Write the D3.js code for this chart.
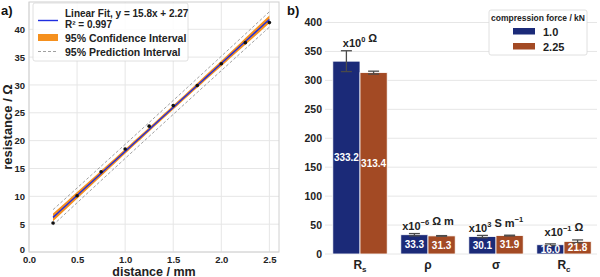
<!DOCTYPE html>
<html>
<head>
<meta charset="utf-8">
<script src="https://cdn.jsdelivr.net/npm/d3@7"></script>
<style>
  body { margin: 0; background: #fff; }
  svg { display: block; font-family: "Liberation Sans", Arial, sans-serif; font-weight: bold; }
</style>
</head>
<body>
<div id="svgdiv"></div>
<script>
// ---- data ----
var distance = [0.25, 0.5, 0.75, 1.0, 1.25, 1.5, 1.75, 2.0, 2.25, 2.5];
var resistance = [5.2, 10.1, 14.4, 18.5, 22.6, 26.3, 29.9, 33.8, 37.6, 41.2];
var fitSlope = 15.8;
var fitIntercept = 2.27;
var fitR2 = 0.997;

var xTicksA = [0.0, 0.5, 1.0, 1.5, 2.0, 2.5];
var yTicksA = [0, 5, 10, 15, 20, 25, 30, 35, 40];

var quantities = ["Rs", "rho", "sigma", "Rc"];
var forces = ["1.0", "2.25"];
var values1 = [333.2, 33.3, 30.1, 16.0];
var values2 = [313.4, 31.3, 31.9, 21.8];
var errors1 = [18, 2.0, 2.0, 1.5];
var errors2 = [2.5, 0.5, 0.6, 2.5];
var yTicksB = [0, 50, 100, 150, 200, 250, 300, 350, 400];

var blueBar = "#1b2a78";
var rustBar = "#a34a24";

// Step 1: Set up the svg
var svgWidth = 600;
var svgHeight = 277;

var svg = d3.select("#svgdiv")
    .append("svg")
    .attr("width", svgWidth)
    .attr("height", svgHeight);

// =========== panel a) ===========
var xA = d3.scaleLinear().domain([0, 2.6]).range([29, 279]);
var yA = d3.scaleLinear().domain([0, 44.9]).range([252, 2]);

var gA = svg.append("g");

// grid
gA.selectAll(".gx").data(xTicksA).enter().append("line")
    .attr("x1", d => xA(d)).attr("x2", d => xA(d))
    .attr("y1", yA.range()[0]).attr("y2", yA.range()[1])
    .attr("stroke", "#e6e6e6").attr("stroke-width", 1);
gA.selectAll(".gy").data(yTicksA).enter().append("line")
    .attr("x1", xA.range()[0]).attr("x2", xA.range()[1])
    .attr("y1", d => yA(d)).attr("y2", d => yA(d))
    .attr("stroke", "#e6e6e6").attr("stroke-width", 1);

// frame
gA.append("rect")
    .attr("x", xA.range()[0]).attr("y", yA.range()[1])
    .attr("width", xA.range()[1] - xA.range()[0])
    .attr("height", yA.range()[0] - yA.range()[1])
    .attr("fill", "none").attr("stroke", "#d0d0d0").attr("stroke-width", 1);

// axes via d3 axis, then strip lines
var axisBottomA = d3.axisBottom(xA).tickValues(xTicksA).tickFormat(d3.format(".1f")).tickSize(0).tickPadding(4);
var axisLeftA = d3.axisLeft(yA).tickValues(yTicksA).tickSize(0).tickPadding(4);

var xAxisA = gA.append("g").attr("transform", `translate(0, ${yA.range()[0]})`).call(axisBottomA);
var yAxisA = gA.append("g").attr("transform", `translate(${xA.range()[0]}, 0)`).call(axisLeftA);
[xAxisA, yAxisA].forEach(function(ax) {
    ax.select(".domain").remove();
    ax.selectAll("text")
        .attr("font-family", "Liberation Sans, Arial, sans-serif")
        .attr("font-weight", "bold")
        .attr("font-size", "9.5px")
        .attr("fill", "#222");
});
// the "0" of the y axis sits a little higher so it clears "0.0"
yAxisA.selectAll(".tick text").filter(d => d === 0).attr("dy", "0.1em");

// regression intervals computed from the data
var n = distance.length;
var xMean = d3.mean(distance);
var sxx = d3.sum(distance, d => (d - xMean) * (d - xMean));
var sse = d3.sum(distance, (d, i) => Math.pow(resistance[i] - (fitSlope * d + fitIntercept), 2));
var s = Math.sqrt(sse / (n - 2));
var tVal = 2.306;

var lineX = d3.range(0, 46).map(i => 0.25 + i * 0.05);
var bandData = lineX.map(function(x) {
    var yh = fitSlope * x + fitIntercept;
    var ci = tVal * s * Math.sqrt(1 / n + (x - xMean) * (x - xMean) / sxx);
    var pi = tVal * s * Math.sqrt(1 + 1 / n + (x - xMean) * (x - xMean) / sxx);
    return { x: x, y: yh, ci: ci, pi: pi };
});

gA.append("path")
    .datum(bandData)
    .attr("fill", "#f5901e")
    .attr("d", d3.area().x(d => xA(d.x)).y0(d => yA(d.y - d.ci)).y1(d => yA(d.y + d.ci)));

gA.append("path")
    .datum(bandData)
    .attr("fill", "none").attr("stroke", "#888").attr("stroke-width", 0.8).attr("stroke-dasharray", "3,2")
    .attr("d", d3.line().x(d => xA(d.x)).y(d => yA(d.y + d.pi)));
gA.append("path")
    .datum(bandData)
    .attr("fill", "none").attr("stroke", "#888").attr("stroke-width", 0.8).attr("stroke-dasharray", "3,2")
    .attr("d", d3.line().x(d => xA(d.x)).y(d => yA(d.y - d.pi)));

gA.append("path")
    .datum(bandData)
    .attr("fill", "none").attr("stroke", "#1f2ee0").attr("stroke-width", 1.4)
    .attr("d", d3.line().x(d => xA(d.x)).y(d => yA(d.y)));

gA.selectAll(".pt").data(distance).enter().append("circle")
    .attr("cx", d => xA(d))
    .attr("cy", (d, i) => yA(resistance[i]))
    .attr("r", 1.8)
    .attr("fill", "#111");

// legend a
var legA = gA.append("g");
legA.append("rect")
    .attr("x", 33).attr("y", 3).attr("width", 155).attr("height", 58)
    .attr("rx", 2).attr("fill", "#fff").attr("fill-opacity", 0.85)
    .attr("stroke", "#d8d8d8").attr("stroke-width", 0.8);
legA.append("line").attr("x1", 38).attr("x2", 58).attr("y1", 20.5).attr("y2", 20.5)
    .attr("stroke", "#1f2ee0").attr("stroke-width", 1.4);
legA.append("text").attr("x", 65).attr("y", 17).attr("font-size", "10px").attr("fill", "#222")
    .text("Linear Fit, y = " + fitSlope + "x + " + fitIntercept);
legA.append("text").attr("x", 65).attr("y", 28).attr("font-size", "10px").attr("fill", "#222")
    .text("R² = " + fitR2);
legA.append("rect").attr("x", 38).attr("y", 34).attr("width", 20).attr("height", 7).attr("fill", "#f5901e");
legA.append("text").attr("x", 65).attr("y", 41.5).attr("font-size", "10.5px").attr("fill", "#222")
    .text("95% Confidence Interval");
legA.append("line").attr("x1", 38).attr("x2", 58).attr("y1", 51.5).attr("y2", 51.5)
    .attr("stroke", "#888").attr("stroke-width", 0.8).attr("stroke-dasharray", "3,2");
legA.append("text").attr("x", 65).attr("y", 55.5).attr("font-size", "10.5px").attr("fill", "#222")
    .text("95% Prediction Interval");

// axis titles a
svg.append("text")
    .attr("x", (xA(0) + xA(2.6)) / 2).attr("y", 275.5)
    .attr("text-anchor", "middle").attr("font-size", "12.5px").attr("fill", "#222")
    .text("distance / mm");
svg.append("text")
    .attr("transform", `translate(12, ${(yA.range()[0] + yA.range()[1]) / 2}) rotate(-90)`)
    .attr("text-anchor", "middle").attr("font-size", "13px").attr("fill", "#222")
    .text("resistance / Ω");
svg.append("text").attr("x", 1).attr("y", 15).attr("font-size", "13px").attr("fill", "#111").text("a)");

// =========== panel b) ===========
var x0 = d3.scaleBand().domain(quantities).range([326, 598]).paddingInner(0.2).paddingOuter(0.1);
var x1 = d3.scaleBand().domain(forces).range([0, x0.bandwidth()]);
var yB = d3.scaleLinear().domain([0, 400]).range([254, 22.5]);

var gB = svg.append("g");

gB.selectAll(".gyb").data(yTicksB).enter().append("line")
    .attr("x1", 325).attr("x2", 597)
    .attr("y1", d => yB(d)).attr("y2", d => yB(d))
    .attr("stroke", "#e6e6e6").attr("stroke-width", 1);

var axisLeftB = d3.axisLeft(yB).tickValues(yTicksB).tickSize(0).tickPadding(3);
var yAxisB = gB.append("g").attr("transform", "translate(325, 0)").call(axisLeftB);
yAxisB.select(".domain").remove();
yAxisB.selectAll("text")
    .attr("font-family", "Liberation Sans, Arial, sans-serif")
    .attr("font-weight", "bold")
    .attr("font-size", "10.5px")
    .attr("fill", "#222");

var barData = [];
quantities.forEach(function(q, i) {
    barData.push({ q: q, f: forces[0], v: values1[i], e: errors1[i], c: blueBar });
    barData.push({ q: q, f: forces[1], v: values2[i], e: errors2[i], c: rustBar });
});

gB.selectAll(".bar").data(barData).enter().append("rect")
    .attr("x", d => x0(d.q) + x1(d.f))
    .attr("y", d => yB(d.v))
    .attr("width", x1.bandwidth())
    .attr("height", d => yB(0) - yB(d.v))
    .attr("fill", d => d.c)
    .attr("stroke", "#fff").attr("stroke-width", 0.8);

// error bars
var capW = 11;
var errG = gB.selectAll(".err").data(barData).enter().append("g")
    .attr("stroke", "#4a4a4a").attr("stroke-width", 1.3);
errG.append("line")
    .attr("x1", d => x0(d.q) + x1(d.f) + x1.bandwidth() / 2)
    .attr("x2", d => x0(d.q) + x1(d.f) + x1.bandwidth() / 2)
    .attr("y1", d => yB(d.v - d.e)).attr("y2", d => yB(d.v + d.e));
errG.append("line")
    .attr("x1", d => x0(d.q) + x1(d.f) + x1.bandwidth() / 2 - capW / 2)
    .attr("x2", d => x0(d.q) + x1(d.f) + x1.bandwidth() / 2 + capW / 2)
    .attr("y1", d => yB(d.v + d.e)).attr("y2", d => yB(d.v + d.e));
errG.append("line")
    .attr("x1", d => x0(d.q) + x1(d.f) + x1.bandwidth() / 2 - capW / 2)
    .attr("x2", d => x0(d.q) + x1(d.f) + x1.bandwidth() / 2 + capW / 2)
    .attr("y1", d => yB(d.v - d.e)).attr("y2", d => yB(d.v - d.e));

// value labels inside bars
gB.selectAll(".val").data(barData).enter().append("text")
    .attr("x", d => x0(d.q) + x1(d.f) + x1.bandwidth() / 2)
    .attr("y", d => (yB(d.v) + yB(0)) / 2 + 3.6)
    .attr("text-anchor", "middle")
    .attr("font-size", "10px")
    .attr("fill", "#fff")
    .text(d => d.v.toFixed(1));

// unit annotations above each group
var unitParts = [
    [["x10", 0], ["0", 1], [" Ω", 0]],
    [["x10", 0], ["−6", 1], [" Ω m", 0]],
    [["x10", 0], ["3", 1], [" S m", 0], ["−1", 1]],
    [["x10", 0], ["−1", 1], [" Ω", 0]]
];
quantities.forEach(function(q, i) {
    var top = d3.max([values1[i] + errors1[i], values2[i] + errors2[i]]);
    var t = gB.append("text")
        .attr("x", x0(q) + x0.bandwidth() / 2)
        .attr("y", yB(top) - 3.5)
        .attr("text-anchor", "middle")
        .attr("font-size", "11px")
        .attr("fill", "#222");
    unitParts[i].forEach(function(p) {
        t.append("tspan")
            .attr("font-size", p[1] ? "7.5px" : "11px")
            .attr("dy", p[1] ? -5 : 0)
            .text(p[0]);
        if (p[1]) t.append("tspan").attr("dy", 5).text("");
    });
});

// x category labels
var catLabels = [["R", "s"], ["ρ", ""], ["σ", ""], ["R", "c"]];
quantities.forEach(function(q, i) {
    var t = gB.append("text")
        .attr("x", x0(q) + x0.bandwidth() / 2)
        .attr("y", 269)
        .attr("text-anchor", "middle")
        .attr("font-size", "12px")
        .attr("fill", "#222");
    t.append("tspan").text(catLabels[i][0]);
    if (catLabels[i][1]) {
        t.append("tspan").attr("font-size", "8px").attr("dy", 2.5).text(catLabels[i][1]);
    }
});

// legend b
var legB = gB.append("g");
legB.append("rect")
    .attr("x", 489).attr("y", 10).attr("width", 98).attr("height", 45)
    .attr("rx", 2).attr("fill", "#fff").attr("stroke", "#d8d8d8").attr("stroke-width", 0.8);
legB.append("text").attr("x", 538).attr("y", 21).attr("text-anchor", "middle")
    .attr("font-size", "8.5px").attr("fill", "#222").text("compression force / kN");
forces.forEach(function(f, i) {
    legB.append("rect").attr("x", 513).attr("y", 28 + i * 15).attr("width", 22).attr("height", 6.5)
        .attr("fill", i === 0 ? blueBar : rustBar);
    legB.append("text").attr("x", 543).attr("y", 35.5 + i * 15)
        .attr("font-size", "11px").attr("fill", "#222").text(f);
});

svg.append("text").attr("x", 287).attr("y", 15).attr("font-size", "13px").attr("fill", "#111").text("b)");
</script>
</body>
</html>
